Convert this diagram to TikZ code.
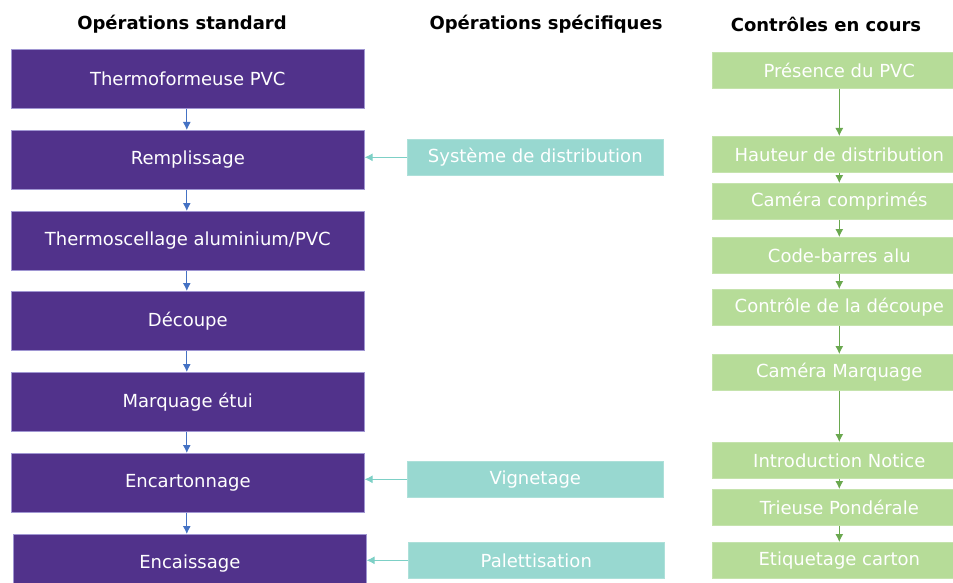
\documentclass[tikz,border=0pt]{standalone}
\usepackage{fontspec}
\setmainfont{DejaVu Sans}
\usepackage{xcolor}
\usepackage{tikz}
\usetikzlibrary{positioning,calc,arrows.meta}

\definecolor{opviolet}{RGB}{81,50,139}
\definecolor{opborder}{RGB}{160,150,210}
\definecolor{spteal}{RGB}{152,216,208}
\definecolor{sparrow}{RGB}{125,208,198}
\definecolor{ctgreen}{RGB}{182,220,152}
\definecolor{ctarrow}{RGB}{106,168,79}
\definecolor{oparrow}{RGB}{68,114,196}

\begin{document}
\begin{tikzpicture}[x=1pt, y=-1pt,
    every node/.style={rectangle, align=center, font=\fontsize{18}{21}\selectfont},
    header/.style={font=\fontsize{18}{21}\selectfont\bfseries, text=black},
    stdop/.style={fill=opviolet, draw=opborder, line width=0.6pt, text=white,
        minimum width=353pt, minimum height=59pt, anchor=north west},
    specop/.style={fill=spteal, draw=spteal!80!white, line width=0.6pt, text=white,
        minimum width=256pt, minimum height=36pt, anchor=north west},
    ctrl/.style={fill=ctgreen, draw=ctgreen!80!white, line width=0.6pt, text=white,
        minimum width=254pt, minimum height=36pt, anchor=north west},
    oplink/.style={draw=oparrow, line width=1pt, -{Latex[length=8pt,width=8pt]}},
    splink/.style={draw=sparrow, line width=1pt, -{Latex[length=8pt,width=8pt]}},
    ctlink/.style={draw=ctarrow, line width=1pt, -{Latex[length=8pt,width=8pt]}}]

    \clip (0,0) rectangle (953,583);

    % column titles
    \node[header] (hstd)  at (182,24) {Opérations standard};
    \node[header] (hspec) at (546,24) {Opérations spécifiques};
    \node[header] (hctrl) at (826,24) {Contrôles en cours};

    % standard operations
    \node[stdop] (op1) at (11,49)  {Thermoformeuse PVC};
    \node[stdop] (op2) at (11,130) {Remplissage};
    \node[stdop] (op3) at (11,211) {Thermoscellage aluminium/PVC};
    \node[stdop] (op4) at (11,291) {Découpe};
    \node[stdop] (op5) at (11,372) {Marquage étui};
    \node[stdop] (op6) at (11,453) {Encartonnage};
    \node[stdop] (op7) at (13,534) {Encaissage};

    % specific operations
    \node[specop] (sp1) at (407,139) {Système de distribution};
    \node[specop] (sp2) at (407,461) {Vignetage};
    \node[specop] (sp3) at (408,542) {Palettisation};

    % in-process controls
    \node[ctrl] (ct1) at (712,52)  {Présence du PVC};
    \node[ctrl] (ct2) at (712,136) {Hauteur de distribution};
    \node[ctrl] (ct3) at (712,183) {Caméra comprimés};
    \node[ctrl] (ct4) at (712,237) {Code-barres alu};
    \node[ctrl] (ct5) at (712,289) {Contrôle de la découpe};
    \node[ctrl] (ct6) at (712,354) {Caméra Marquage};
    \node[ctrl] (ct7) at (712,442) {Introduction Notice};
    \node[ctrl] (ct8) at (712,489) {Trieuse Pondérale};
    \node[ctrl] (ct9) at (712,542) {Etiquetage carton};

    % links
    \foreach \a/\b in {op1/op2, op2/op3, op3/op4, op4/op5, op5/op6, op6/op7}
        \draw[oplink] ([xshift=-1pt]\a.south) -- ([xshift=-1pt]\a.south |- \b.north);
    \foreach \a/\b in {sp1/op2, sp2/op6, sp3/op7}
        \draw[splink] (\a.west) -- (\a.west -| \b.east);
    \foreach \a/\b in {ct1/ct2, ct2/ct3, ct3/ct4, ct4/ct5, ct5/ct6, ct6/ct7, ct7/ct8, ct8/ct9}
        \draw[ctlink] (\a.south) -- (\b.north);
\end{tikzpicture}
\end{document}
